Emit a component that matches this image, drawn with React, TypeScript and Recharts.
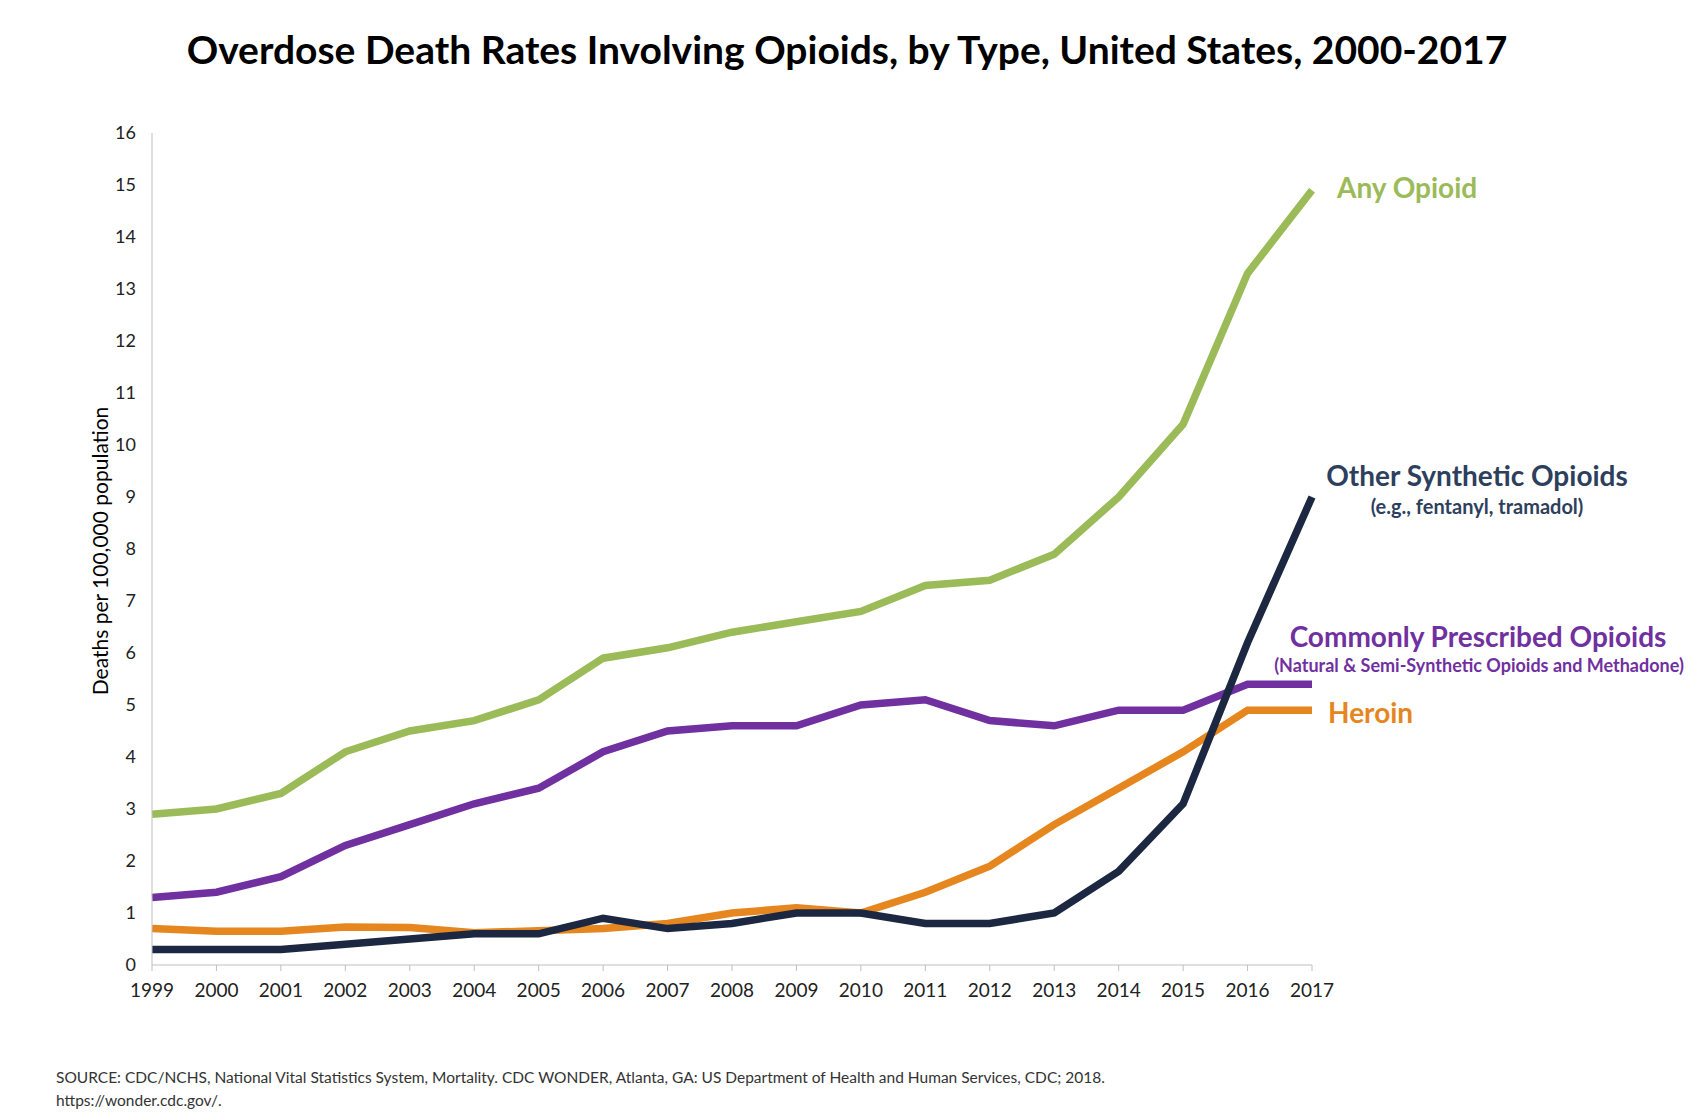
import React from "react";
import { LineChart, Line, XAxis, YAxis } from "recharts";

const years = ["1999","2000","2001","2002","2003","2004","2005","2006","2007","2008","2009","2010","2011","2012","2013","2014","2015","2016","2017"];
const anyOpioid = [2.9, 3.0, 3.3, 4.1, 4.5, 4.7, 5.1, 5.9, 6.1, 6.4, 6.6, 6.8, 7.3, 7.4, 7.9, 9.0, 10.4, 13.3, 14.9];
const prescribed = [1.3, 1.4, 1.7, 2.3, 2.7, 3.1, 3.4, 4.1, 4.5, 4.6, 4.6, 5.0, 5.1, 4.7, 4.6, 4.9, 4.9, 5.4, 5.4];
const heroin = [0.7, 0.65, 0.65, 0.73, 0.72, 0.62, 0.66, 0.7, 0.8, 1.0, 1.1, 1.0, 1.4, 1.9, 2.7, 3.4, 4.1, 4.9, 4.9];
const synthetic = [0.3, 0.3, 0.3, 0.4, 0.5, 0.6, 0.6, 0.9, 0.7, 0.8, 1.0, 1.0, 0.8, 0.8, 1.0, 1.8, 3.1, 6.2, 9.0];
const yTicks = [0, 1, 2, 3, 4, 5, 6, 7, 8, 9, 10, 11, 12, 13, 14, 15, 16];

const data = years.map((y, i) => ({
  year: y,
  any: anyOpioid[i],
  prescribed: prescribed[i],
  heroin: heroin[i],
  synthetic: synthetic[i],
}));

const FONT = "Lato, 'Open Sans', sans-serif";
const GREEN = "#9BBB59";
const NAVY = "#1C2841";
const NAVY_TXT = "#2E3F5E";
const PURPLE = "#7030A0";
const ORANGE = "#E6861F";
const last = years.length - 1;

const endLabel = (lines: { text: string; dx: number; dy: number; size: number; color: string; anchor?: string }[]) =>
  (props: any) => {
    const { x, y, index } = props;
    if (index !== last) return null;
    return (
      <g>
        {lines.map((l, k) => (
          <text
            key={k}
            x={x + l.dx}
            y={y + l.dy}
            fill={l.color}
            fontSize={l.size}
            fontWeight={700}
            fontFamily={FONT}
            textAnchor={(l.anchor as any) || "start"}
            dominantBaseline="central"
          >
            {l.text}
          </text>
        ))}
      </g>
    );
  };

export default function App() {
  return (
    <div style={{ position: "absolute", left: 0, top: 0, width: 1694, height: 1119, background: "#fff", fontFamily: FONT }}>
      <div style={{ position: "absolute", left: 0, width: 1694, top: 26, textAlign: "center", fontSize: 39, fontWeight: 700, color: "#000" }}>
        Overdose Death Rates Involving Opioids, by Type, United States, 2000-2017
      </div>
      <div
        style={{
          position: "absolute",
          left: 99,
          top: 551,
          transform: "translate(-50%, -50%) rotate(-90deg)",
          whiteSpace: "nowrap",
          fontSize: 21,
          color: "#000",
        }}
      >
        Deaths per 100,000 population
      </div>
      <div style={{ position: "absolute", left: 0, top: 0 }}>
        <LineChart width={1694} height={1119} data={data} margin={{ top: 133, right: 382, bottom: 114, left: 92 }}>
          <XAxis
            dataKey="year"
            stroke="#BFBFBF"
            tickLine={{ stroke: "#BFBFBF" }}
            tickSize={6}
            height={40}
            tick={{ fill: "#222", fontSize: 19, fontFamily: FONT }}
            tickMargin={13}
            interval={0}
          />
          <YAxis
            domain={[0, 16]}
            ticks={yTicks}
            width={60}
            stroke="#BFBFBF"
            tickLine={false}
            tick={{ fill: "#222", fontSize: 18, fontFamily: FONT }}
            tickMargin={10}
            interval={0}
          />
          <Line
            dataKey="any"
            stroke={GREEN}
            strokeWidth={7.5}
            dot={false}
            isAnimationActive={false}
            label={endLabel([{ text: "Any Opioid", dx: 25, dy: -3, size: 28, color: GREEN }])}
          />
          <Line
            dataKey="prescribed"
            stroke={PURPLE}
            strokeWidth={7.5}
            dot={false}
            isAnimationActive={false}
            label={endLabel([
              { text: "Commonly Prescribed Opioids", dx: 166, dy: -48, size: 28, color: PURPLE, anchor: "middle" },
              { text: "(Natural & Semi-Synthetic Opioids and Methadone)", dx: 167, dy: -19, size: 18, color: PURPLE, anchor: "middle" },
            ])}
          />
          <Line
            dataKey="heroin"
            stroke={ORANGE}
            strokeWidth={7.5}
            dot={false}
            isAnimationActive={false}
            label={endLabel([{ text: "Heroin", dx: 16, dy: 2, size: 28, color: ORANGE }])}
          />
          <Line
            dataKey="synthetic"
            stroke={NAVY}
            strokeWidth={7.5}
            dot={false}
            isAnimationActive={false}
            label={endLabel([
              { text: "Other Synthetic Opioids", dx: 165, dy: -22, size: 28, color: NAVY_TXT, anchor: "middle" },
              { text: "(e.g., fentanyl, tramadol)", dx: 165, dy: 9, size: 20, color: NAVY_TXT, anchor: "middle" },
            ])}
          />
        </LineChart>
      </div>
      <div style={{ position: "absolute", left: 56, top: 1066, fontSize: 15.5, lineHeight: "23px", color: "#333" }}>
        SOURCE: CDC/NCHS, National Vital Statistics System, Mortality. CDC WONDER, Atlanta, GA: US Department of Health and Human Services, CDC; 2018.
        <br />
        https://wonder.cdc.gov/.
      </div>
    </div>
  );
}
